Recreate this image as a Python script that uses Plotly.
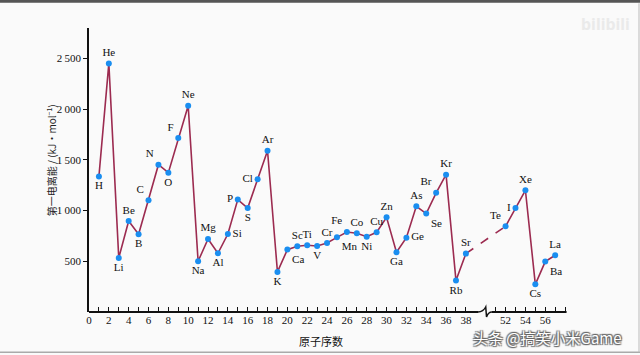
import plotly.graph_objects as go

# ---------------- data ----------------
atomic_numbers = list(range(1, 39)) + [52, 53, 54, 55, 56, 57]
symbols = ["H", "He", "Li", "Be", "B", "C", "N", "O", "F", "Ne",
           "Na", "Mg", "Al", "Si", "P", "S", "Cl", "Ar",
           "K", "Ca", "Sc", "Ti", "V", "Cr", "Mn", "Fe", "Co", "Ni", "Cu", "Zn",
           "Ga", "Ge", "As", "Se", "Br", "Kr", "Rb", "Sr",
           "Te", "I", "Xe", "Cs", "Ba", "La"]
energies = [1337, 2451, 533, 897, 766, 1101, 1452, 1374, 1715, 2034,
            500, 720, 579, 769, 1108, 1025, 1308, 1590,
            395, 615, 648, 658, 651, 680, 736, 789, 776, 743, 786, 933,
            589, 733, 1042, 970, 1175, 1354, 310, 576,
            845, 1025, 1200, 273, 497, 559]
label_pos = ["bottom center", "top center", "bottom center", "top center", "bottom center",
             "top left", "top left", "bottom center", "top left", "top center",
             "bottom center", "top center", "bottom center", "middle right", "middle left",
             "bottom center", "middle left", "top center",
             "bottom center", "bottom right", "top center", "top center", "bottom center",
             "top center", "bottom right", "top left", "top center", "bottom center",
             "top center", "top center",
             "bottom center", "middle right", "top center", "bottom right", "top left",
             "top center", "bottom center", "top center",
             "top left", "middle left", "top center", "bottom center", "bottom right", "top center"]
y_ticks = [500, 1000, 1500, 2000, 2500]
y_tick_text = ["500", "1\u2009000", "1\u2009500", "2\u2009000", "2\u2009500"]

# broken x axis: atomic numbers 39..51 are cut out
GAP = 10
def xpos(z):
    return z if z <= 38 else z - GAP

xs = [xpos(z) for z in atomic_numbers]
LINE = "#9c2b50"
MARK = "#1a8ef0"
SERIF = "Liberation Serif"

n1 = atomic_numbers.index(38) + 1
fig = go.Figure()
fig.add_trace(go.Scatter(x=xs[:n1], y=energies[:n1], mode="lines",
                         line=dict(color=LINE, width=1.6), hoverinfo="skip"))
fig.add_trace(go.Scatter(x=xs[n1 - 1:n1 + 1], y=energies[n1 - 1:n1 + 1], mode="lines",
                         line=dict(color=LINE, width=1.6, dash="dash"), hoverinfo="skip"))
fig.add_trace(go.Scatter(x=xs[n1:], y=energies[n1:], mode="lines",
                         line=dict(color=LINE, width=1.6), hoverinfo="skip"))
fig.add_trace(go.Scatter(x=xs, y=energies, mode="markers+text", text=symbols,
                         textposition=label_pos,
                         textfont=dict(family=SERIF, size=11, color="#111"),
                         marker=dict(color=MARK, size=6), cliponaxis=False))

# ticks
tick_z = list(range(0, 40)) + list(range(51, 59))
tickvals = [xpos(z) for z in tick_z]
ticktext = [str(z) if (z % 2 == 0 and (z <= 38 or 52 <= z <= 56)) else " " for z in tick_z]

XMAX = 49
fig.update_xaxes(range=[0, XMAX], tickvals=tickvals, ticktext=ticktext,
                 ticks="inside", ticklen=5, tickwidth=1.2, tickcolor="#111",
                 showline=False, showgrid=False, zeroline=False,
                 tickfont=dict(family=SERIF, size=11, color="#111"))
fig.update_yaxes(range=[0, 2800], tickvals=y_ticks, ticktext=y_tick_text,
                 ticks="outside", ticklen=4, tickwidth=1.2, tickcolor="#111",
                 showline=True, linecolor="#111", linewidth=1.8,
                 showgrid=False, zeroline=False,
                 tickfont=dict(family=SERIF, size=11, color="#111"))

# x-axis line with break symbol (paper coordinates)
def px(x):
    return x / XMAX
pxy = 1 / 284.0
shapes = [
    dict(type="line", xref="paper", yref="paper", x0=0, x1=px(39.22), y0=0, y1=0,
         line=dict(color="#111", width=1.8)),
    dict(type="line", xref="paper", yref="paper", x0=px(40.63), x1=px(48.15), y0=0, y1=0,
         line=dict(color="#111", width=1.8)),
    dict(type="path", xref="paper", yref="paper",
         path=(f"M {px(39.22)},0 Q {px(39.75)},{0.3*pxy} {px(40.0)},{5*pxy} "
               f"L {px(40.08)},{-5*pxy} Q {px(40.25)},0 {px(40.63)},0"),
         line=dict(color="#111", width=1.5)),
    # page frame
    dict(type="rect", xref="paper", yref="paper", x0=-0.2, x1=1.2,
         y0=(311.75 - 2.5) / 284, y1=(311.75 + 1) / 284,
         fillcolor="#555", line=dict(width=0)),
    dict(type="line", xref="paper", yref="paper", x0=-0.2, x1=1.2,
         y0=(311.75 - 352) / 284, y1=(311.75 - 352) / 284,
         line=dict(color="#aaa", width=1.5)),
    dict(type="line", xref="paper", yref="paper", x0=(639 - 89) / 486, x1=(639 - 89) / 486,
         y0=(311.75 - 352) / 284, y1=(311.75 - 3) / 284,
         line=dict(color="#bbb", width=1)),
]

annotations = [
    dict(text="第一电离能 / (kJ·mol<sup>−1</sup>)", xref="paper", yref="paper",
         x=(51 - 89) / 486, y=(311.75 - 160) / 284, textangle=-90, showarrow=False,
         xanchor="center", yanchor="middle",
         font=dict(family="Noto Sans CJK SC", size=10, color="#222")),
    dict(text="原子序数", xref="paper", yref="paper",
         x=(321 - 89) / 486, y=(311.75 - 341) / 284, showarrow=False,
         xanchor="center", yanchor="middle",
         font=dict(family="Noto Sans CJK SC", size=11, color="#111")),
    dict(text="头条 @搞笑小米Game", xref="paper", yref="paper",
         x=(547 - 89) / 486, y=(311.75 - 337) / 284, showarrow=False,
         xanchor="center", yanchor="middle",
         font=dict(family="Noto Sans CJK SC", size=15, color="#ffffff",
                   shadow="1px 1px 1px #666, -1px -1px 1px #666, 1px -1px 1px #666, -1px 1px 1px #666")),
    dict(text="<b>bilibili</b>", xref="paper", yref="paper",
         x=(605 - 89) / 486, y=(311.75 - 24) / 284, showarrow=False,
         xanchor="center", yanchor="middle",
         font=dict(family="Noto Sans", size=16, color="#eaeaea")),
]

fig.update_layout(
    width=640, height=355,
    margin=dict(l=89, r=65, t=28, b=43, autoexpand=False),
    paper_bgcolor="#fafafa", plot_bgcolor="rgba(0,0,0,0)",
    showlegend=False, shapes=shapes, annotations=annotations,
)

fig.write_html("out.html", config={"displayModeBar": False},
               post_script="document.body.style.margin='0';document.body.style.padding='0';")
